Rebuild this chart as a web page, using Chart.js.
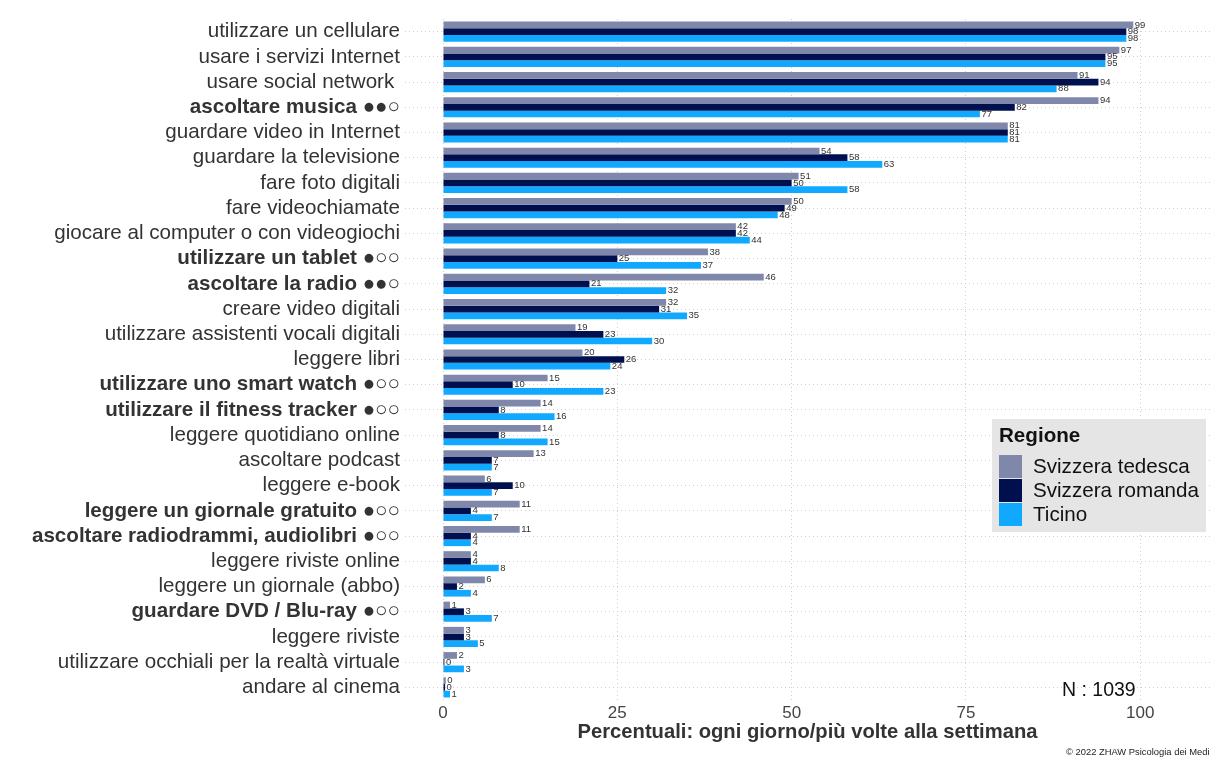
<!DOCTYPE html>
<html lang="it">
<head>
<meta charset="utf-8">
<title>Uso dei media per regione</title>
<script src="https://cdn.jsdelivr.net/npm/chart.js@4.4.1/dist/chart.umd.min.js"></script>
<style>
  html, body { margin: 0; padding: 0; background: #fff; }
  #wrap { width: 1210px; height: 758px; }
</style>
</head>
<body>
<div id="wrap"><canvas id="chart" width="1210" height="758"></canvas></div>
<script>
// activities, top to bottom
const categories = [
  "utilizzare un cellulare",
  "usare i servizi Internet",
  "usare social network ",
  "ascoltare musica",
  "guardare video in Internet",
  "guardare la televisione",
  "fare foto digitali",
  "fare videochiamate",
  "giocare al computer o con videogiochi",
  "utilizzare un tablet",
  "ascoltare la radio",
  "creare video digitali",
  "utilizzare assistenti vocali digitali",
  "leggere libri",
  "utilizzare uno smart watch",
  "utilizzare il fitness tracker",
  "leggere quotidiano online",
  "ascoltare podcast",
  "leggere e-book",
  "leggere un giornale gratuito",
  "ascoltare radiodrammi, audiolibri",
  "leggere riviste online",
  "leggere un giornale (abbo)",
  "guardare DVD / Blu-ray",
  "leggere riviste",
  "utilizzare occhiali per la realtà virtuale",
  "andare al cinema"
];

// significance markers (these rows are bold)
const markers = [
  "", "", "", "●●○", "", "", "", "", "", "●○○",
  "●●○", "", "", "", "●○○", "●○○", "", "", "", "●○○",
  "●○○", "", "", "●○○", "", "", ""
];

const regions = ["Svizzera tedesca", "Svizzera romanda", "Ticino"];

const tedesca = [99, 97, 91, 94, 81, 54, 51, 50, 42, 38, 46, 32, 19, 20, 15, 14, 14, 13, 6, 11, 11, 4, 6, 1, 3, 2, 0.4];
const romanda = [98, 95, 94, 82, 81, 58, 50, 49, 42, 25, 21, 31, 23, 26, 10, 8, 8, 7, 10, 4, 4, 4, 2, 3, 3, 0.2, 0.3];
const ticino  = [98, 95, 88, 77, 81, 63, 58, 48, 44, 37, 32, 35, 30, 24, 23, 16, 15, 7, 7, 7, 4, 8, 4, 7, 5, 3, 1];

const xTicks = [0, 25, 50, 75, 100];
const sampleSize = 1039;

const colors = ["#7f88aa", "#00104f", "#11a9ff"];
const FONT = "'Liberation Sans', Arial, sans-serif";

// category labels: bold text + plain circles, placed on the y scale ticks
const rowLabels = {
  id: "rowLabels",
  afterDraw(chart) {
    const ctx = chart.ctx;
    const yScale = chart.scales.y;
    const right = yScale.right - 5;
    ctx.save();
    ctx.fillStyle = "#333";
    ctx.textAlign = "right";
    ctx.textBaseline = "middle";
    categories.forEach((c, i) => {
      const y = yScale.getPixelForTick(i);
      if (markers[i]) {
        ctx.font = "20.6px " + FONT;
        const mw = ctx.measureText(markers[i]).width;
        ctx.fillText(markers[i], right, y);
        ctx.font = "bold 20.6px " + FONT;
        ctx.fillText(c + " ", right - mw, y);
      } else {
        ctx.font = "20.6px " + FONT;
        ctx.fillText(c, right, y);
      }
    });
    ctx.restore();
  }
};

// numbers next to each bar
const valueLabels = {
  id: "valueLabels",
  afterDatasetsDraw(chart) {
    const ctx = chart.ctx;
    ctx.save();
    ctx.font = "9.5px " + FONT;
    ctx.fillStyle = "#333";
    ctx.textAlign = "left";
    ctx.textBaseline = "middle";
    chart.data.datasets.forEach((ds, i) => {
      chart.getDatasetMeta(i).data.forEach((bar, j) => {
        ctx.fillText(Math.round(ds.data[j]), bar.x + 1.5, bar.y);
      });
    });
    ctx.restore();
  }
};

// grey legend box inside the plot + N and credit line
const extras = {
  id: "extras",
  afterDraw(chart) {
    const ctx = chart.ctx;
    ctx.save();

    ctx.fillStyle = "#e5e5e5";
    ctx.fillRect(992, 419, 214, 113);
    ctx.fillStyle = "#111";
    ctx.textBaseline = "middle";
    ctx.textAlign = "left";
    ctx.font = "bold 20.6px " + FONT;
    ctx.fillText("Regione", 999, 436);
    ctx.font = "20.6px " + FONT;
    chart.data.datasets.forEach((ds, i) => {
      const y = 455 + i * 24;
      ctx.fillStyle = ds.backgroundColor;
      ctx.fillRect(999, y, 23, 23);
      ctx.fillStyle = "#111";
      ctx.fillText(ds.label, 1033, y + 12);
    });

    ctx.font = "19.5px " + FONT;
    ctx.fillStyle = "#111";
    ctx.fillText("N : " + sampleSize, 1062, 691);

    ctx.font = "9.4px " + FONT;
    ctx.fillStyle = "#222";
    ctx.fillText("© 2022 ZHAW Psicologia dei Media", 1066, 752);
    ctx.restore();
  }
};

document.addEventListener("DOMContentLoaded", () => {
  const ctx = document.getElementById("chart").getContext("2d");

  new Chart(ctx, {
    type: "bar",
    data: {
      labels: categories,
      datasets: [
        { label: regions[0], data: tedesca, backgroundColor: colors[0] },
        { label: regions[1], data: romanda, backgroundColor: colors[1] },
        { label: regions[2], data: ticino, backgroundColor: colors[2] }
      ]
    },
    options: {
      indexAxis: "y",
      responsive: false,
      animation: false,
      layout: { padding: { top: 19, right: 0, bottom: 0, left: 0 } },
      datasets: {
        bar: { categoryPercentage: 0.8, barPercentage: 1.0, borderWidth: 0 }
      },
      scales: {
        x: {
          type: "linear",
          min: -5.45,
          max: 110,
          afterBuildTicks: (scale) => {
            scale.ticks = xTicks.map((v) => ({ value: v }));
          },
          afterFit: (scale) => {
            scale.height = 58;
          },
          grid: { color: "#cfcfcf", lineWidth: 1, drawTicks: false },
          border: { display: false, dash: [1, 3] },
          ticks: {
            color: "#444",
            padding: 3,
            font: { family: FONT, size: 17 }
          },
          title: {
            display: true,
            text: "Percentuali: ogni giorno/più volte alla settimana",
            color: "#333",
            font: { family: FONT, size: 20.2, weight: "bold" },
            padding: { top: 0, bottom: 13 }
          }
        },
        y: {
          type: "category",
          offset: true,
          afterFit: (scale) => {
            scale.width = 405;
          },
          grid: { color: "#cfcfcf", lineWidth: 1, drawTicks: false, offset: false },
          border: { display: false, dash: [1, 3] },
          ticks: { display: false, autoSkip: false }
        }
      },
      plugins: {
        legend: { display: false },
        tooltip: { enabled: false }
      }
    },
    plugins: [valueLabels, rowLabels, extras]
  });
});
</script>
</body>
</html>
